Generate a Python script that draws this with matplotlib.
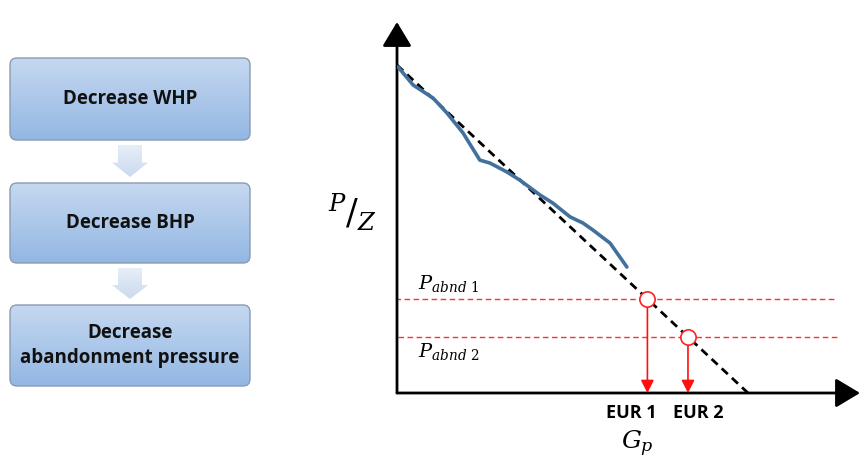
import numpy as np
import matplotlib
matplotlib.use("Agg")
import matplotlib.pyplot as plt
from matplotlib.patches import FancyBboxPatch, Polygon
from matplotlib.colors import LinearSegmentedColormap

# ---------------- data ----------------
steps = ["Decrease WHP", "Decrease BHP", "Decrease\nabandonment pressure"]

# measured P/Z vs Gp (normalised units)
gp_obs = [0.003, 0.046, 0.103, 0.142, 0.188, 0.236, 0.265, 0.313, 0.350,
          0.407, 0.444, 0.493, 0.530, 0.558, 0.607, 0.655]
pz_obs = [0.994, 0.939, 0.899, 0.854, 0.793, 0.710, 0.701, 0.674, 0.649,
          0.604, 0.579, 0.537, 0.518, 0.497, 0.457, 0.384]

# straight-line extrapolation
gp_fit = [0.0, 1.0]
pz_fit = [1.0, 0.0]

# abandonment pressures
p_abnd = [0.2866, 0.171]
p_abnd_labels = [r"$P_{abnd\ 1}$", r"$P_{abnd\ 2}$"]
eur_labels = ["EUR 1", "EUR 2"]

plt.rcParams['mathtext.fontset'] = 'dejavuserif'
BOLD_FONT = ['Open Sans', 'DejaVu Sans']

W, H = 865, 468
fig = plt.figure(figsize=(W / 100, H / 100), dpi=100)

# ---------------- flowchart (pixel-space axes) ----------------
ax0 = fig.add_axes([0, 0, 1, 1])
ax0.set_xlim(0, W)
ax0.set_ylim(H, 0)
ax0.axis('off')

box_top = [58, 183, 305]
box_h = [82, 80, 81]
bx0, bx1 = 10, 250
grad = np.linspace(0, 1, 100).reshape(-1, 1)
cmap_box = LinearSegmentedColormap.from_list("b", ["#c5d8f0", "#93b7e3"])
cmap_arr = LinearSegmentedColormap.from_list("a", ["#e6eef8", "#cbdaef"])

for top, h, label in zip(box_top, box_h, steps):
    patch = FancyBboxPatch((bx0, top), bx1 - bx0, h,
                           boxstyle="round,pad=0,rounding_size=7",
                           fc="none", ec="#8a9bb0", lw=1.0, zorder=3)
    ax0.add_patch(patch)
    im = ax0.imshow(grad, cmap=cmap_box, extent=(bx0, bx1, top + h, top),
                    aspect='auto', zorder=2)
    im.set_clip_path(patch)
    ax0.text((bx0 + bx1) / 2, top + h / 2, label, ha='center', va='center',
             fontsize=13.5, fontweight='bold', family=BOLD_FONT,
             color='#111111', zorder=4, linespacing=1.35)

# down arrows between boxes
for i in range(len(steps) - 1):
    y0 = box_top[i] + box_h[i] + 5
    y1 = box_top[i + 1] - 6
    cx = 130
    hb = y0 + (y1 - y0) * 0.55
    pts = [(cx - 12, y0), (cx + 12, y0), (cx + 12, hb), (cx + 18, hb),
           (cx, y1), (cx - 18, hb), (cx - 12, hb)]
    poly = Polygon(pts, closed=True, fc="none", ec="none", zorder=2)
    ax0.add_patch(poly)
    im = ax0.imshow(grad, cmap=cmap_arr, extent=(cx - 18, cx + 18, y1, y0),
                    aspect='auto', zorder=2)
    im.set_clip_path(poly)

# ---------------- P/Z chart ----------------
px_left, px_axis_y = 397, 393
px_unit_x, px_unit_y = 351, 328
x_max = (860 - px_left) / px_unit_x
y_max = (px_axis_y - 22) / px_unit_y
ax = fig.add_axes([px_left / W, (H - px_axis_y) / H,
                   (860 - px_left) / W, (px_axis_y - 22) / H])
ax.set_xlim(0, x_max)
ax.set_ylim(0, y_max)
ax.axis('off')
ax.patch.set_alpha(0)

# axes arrows
arrow_kw = dict(arrowstyle='-|>,head_length=0.75,head_width=0.45', color='black',
                lw=2, mutation_scale=20, shrinkA=0, shrinkB=0)
ax.annotate("", xy=(x_max, 0), xytext=(0, 0), arrowprops=arrow_kw,
            annotation_clip=False)
ax.annotate("", xy=(0, y_max), xytext=(0, 0), arrowprops=arrow_kw,
            annotation_clip=False)

# extrapolation and measured data
ax.plot(gp_fit, pz_fit, ls=(0, (3, 2)), color='black', lw=2, zorder=3)
ax.plot(gp_obs, pz_obs, color='#41719c', lw=2.6, zorder=4,
        solid_capstyle='round')

# abandonment lines, intersections, EUR arrows
line_ext = [(-0.005, 1.25), (0.003, 1.256)]
label_y = [0.335, 0.125]
eur_text_dx = [-0.047, 0.03]
for p, lab, ext, ly, eur, dx in zip(p_abnd, p_abnd_labels, line_ext, label_y,
                                    eur_labels, eur_text_dx):
    ax.plot(ext, [p, p], ls=(0, (4, 2.5)), color='#ff3030', lw=1.0, zorder=2)
    g = np.interp(p, pz_fit[::-1], gp_fit[::-1])
    ax.plot([g], [p], marker='o', ms=11, mfc='white', mec='#ff2020',
            mew=1.2, zorder=5)
    ax.annotate("", xy=(g, 0), xytext=(g, p - 0.025),
                arrowprops=dict(arrowstyle='-|>,head_length=0.55,head_width=0.28',
                                color='#ff1010', lw=1.2, mutation_scale=14,
                                shrinkA=0, shrinkB=0), zorder=4)
    ax.text(0.06, ly, lab, fontsize=14, ha='left', va='center', zorder=5)
    ax.text(g + dx, -0.035, eur, fontsize=13, fontweight='bold',
            family=BOLD_FONT, ha='center', va='top')

# axis titles
ax.text(0.684, -0.155, r"$G_p$", fontsize=18, ha='center', va='center')
ax.text(-0.128, 0.55, r"$^{P}/_{Z}$", fontsize=25, ha='center', va='center')

fig.savefig("out.png", dpi=100)
